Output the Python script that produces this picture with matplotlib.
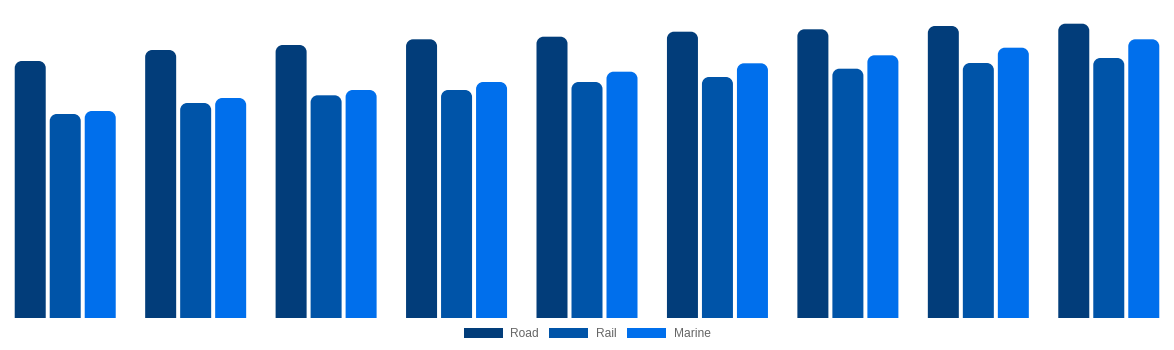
import numpy as np
import matplotlib
matplotlib.use("Agg")
import matplotlib.pyplot as plt
from matplotlib.path import Path
from matplotlib.patches import PathPatch, Patch

# ---- data ----
categories = ["1", "2", "3", "4", "5", "6", "7", "8", "9"]
series_names = ["Road", "Rail", "Marine"]
road = [257, 268, 273, 278.7, 281.3, 286.3, 288.7, 292, 294.3]
rail = [204, 215, 222.7, 228, 236, 241, 249.3, 255, 260]
marine = [207, 220, 228, 236, 246.3, 254.7, 262.7, 270.3, 278.7]
colors = ["#023d7a", "#0054a8", "#006fec"]

W, H = 1174, 350
fig = plt.figure(figsize=(W / 100, H / 100), dpi=100)
ax_bottom_px = 32
ax_h_px = 318
ax = fig.add_axes([0, ax_bottom_px / H, 1, ax_h_px / H])
ymax = 318
ax.set_xlim(-0.5, len(categories) - 0.5)
ax.set_ylim(0, ymax)
ax.axis("off")

band_px = W / len(categories)
bar_w = 31 / band_px
step = 35 / band_px
radius_px = 7
rx = radius_px / band_px
ry = radius_px * ymax / ax_h_px
kap = 0.5523

x = np.arange(len(categories))
all_series = [road, rail, marine]
for k, (vals, col) in enumerate(zip(all_series, colors)):
    bars = ax.bar(x + (k - 1) * step, vals, width=bar_w, color=col)
    for r in bars:
        x0, w, h = r.get_x(), r.get_width(), r.get_height()
        x1 = x0 + w
        verts = [(x0, 0), (x0, h - ry),
                 (x0, h - ry + kap * ry), (x0 + rx - kap * rx, h), (x0 + rx, h),
                 (x1 - rx, h),
                 (x1 - rx + kap * rx, h), (x1, h - ry + kap * ry), (x1, h - ry),
                 (x1, 0), (x0, 0)]
        codes = [Path.MOVETO, Path.LINETO,
                 Path.CURVE4, Path.CURVE4, Path.CURVE4,
                 Path.LINETO,
                 Path.CURVE4, Path.CURVE4, Path.CURVE4,
                 Path.LINETO, Path.CLOSEPOLY]
        r.set_visible(False)
        ax.add_patch(PathPatch(Path(verts, codes), facecolor=col, edgecolor="none"))

fs = 12 * 72 / 100
handles = [Patch(facecolor=c, edgecolor="none") for c in colors]
fig.legend(handles, series_names, loc="center", bbox_to_anchor=(0.5, 16 / H),
           ncol=3, frameon=False, prop={"family": "Liberation Sans", "size": fs},
           handlelength=39 / 12, handleheight=10.5 / 12, handletextpad=0.65,
           columnspacing=0.85, borderpad=0, labelcolor="#666666")

fig.savefig("out.png", dpi=100)
